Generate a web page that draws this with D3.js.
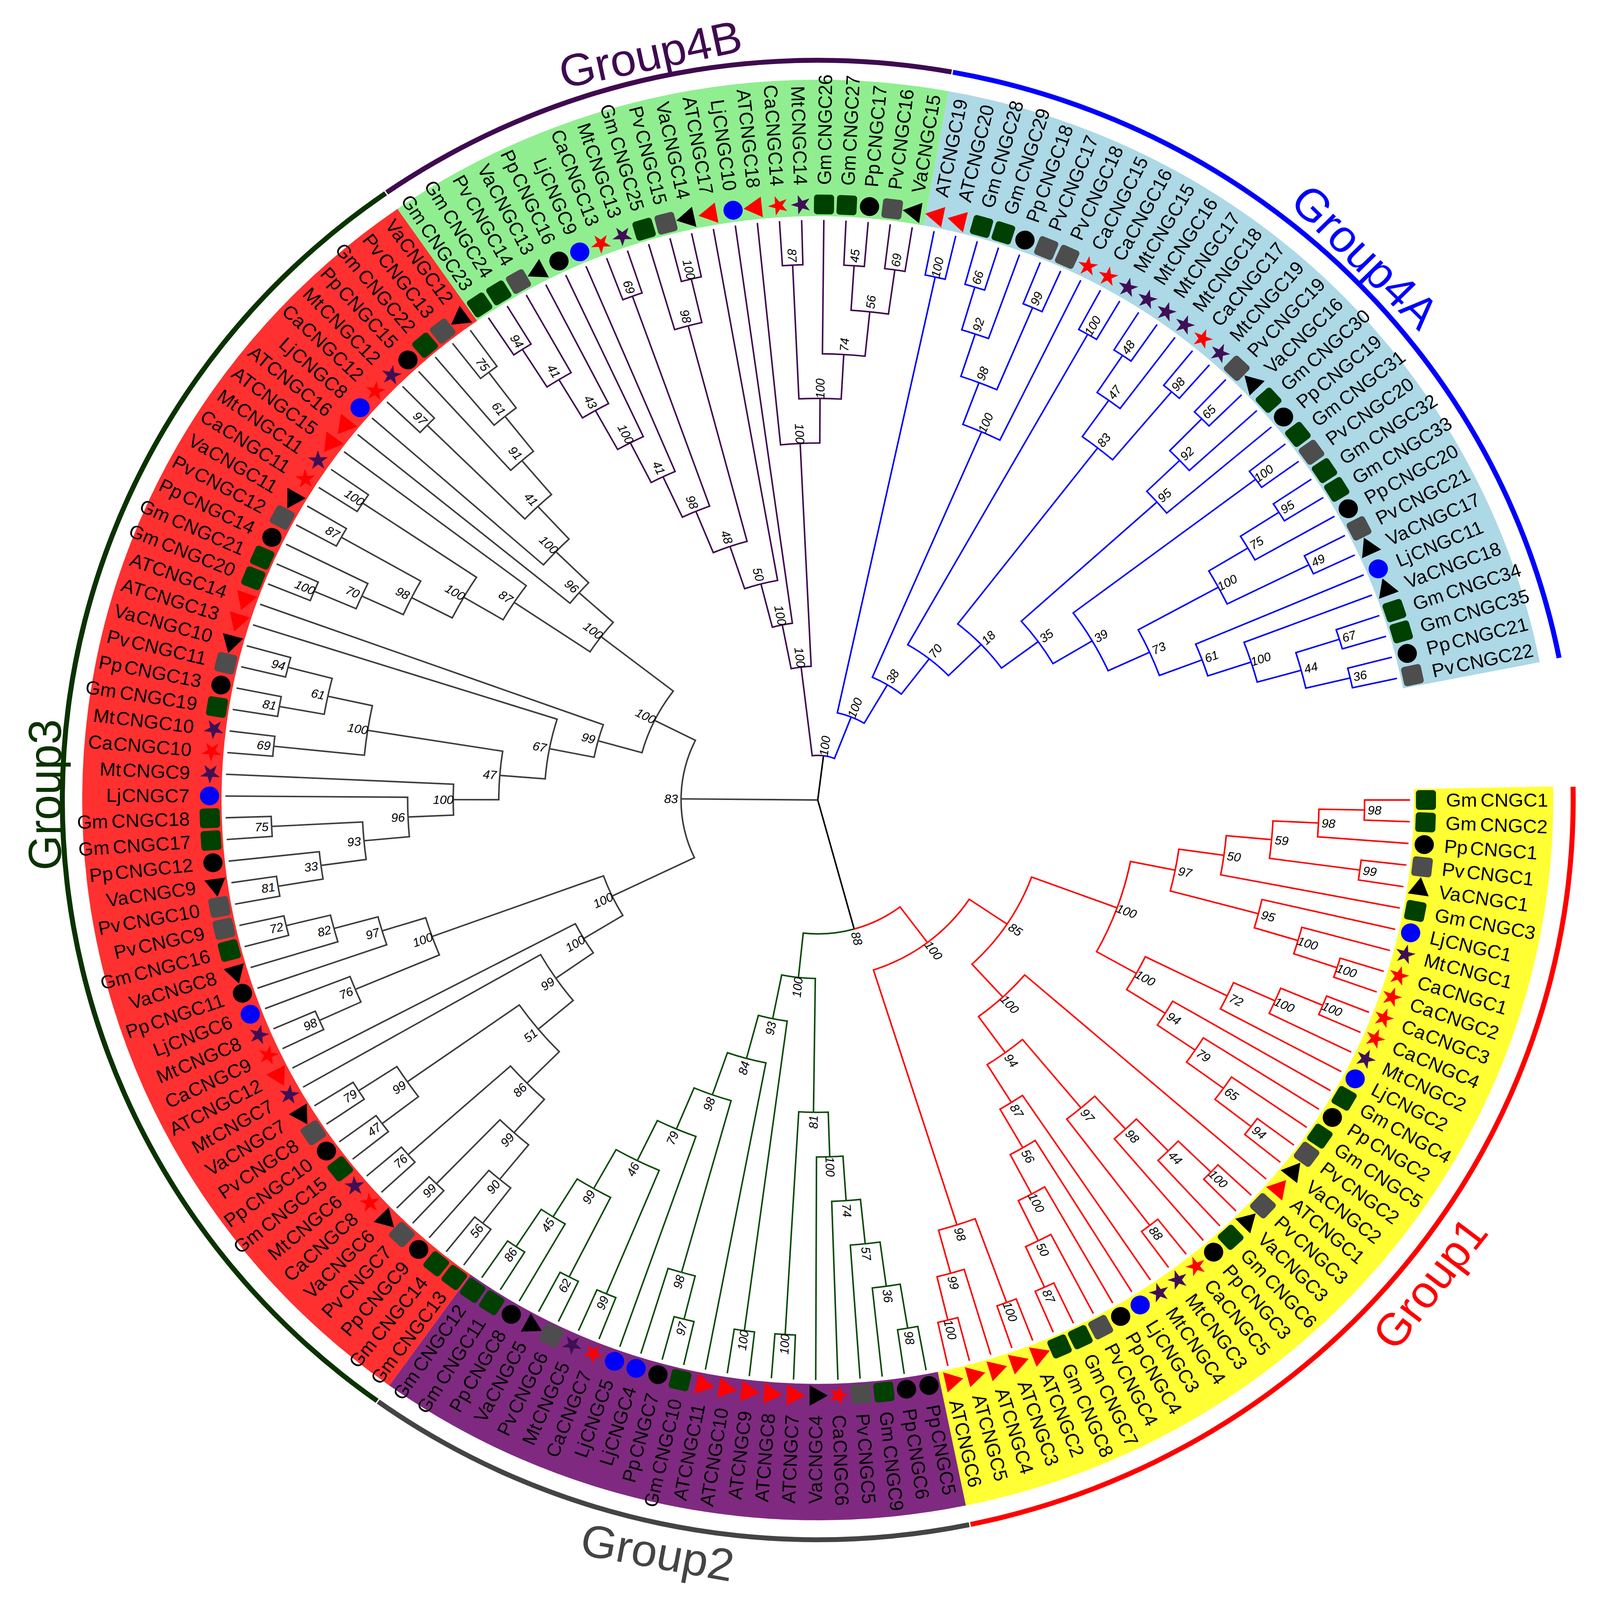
<!DOCTYPE html>
<html>
<head>
<meta charset="utf-8">
<script src="https://cdn.jsdelivr.net/npm/d3@7"></script>
<style>
  html, body { margin: 0; padding: 0; background: #fff; overflow: hidden; }
  svg { display: block; width: 100vw; height: 100vh; }
  text { font-family: "Liberation Sans", Arial, sans-serif; }
</style>
</head>
<body>
<svg id="chart" viewBox="0 0 4146 4234" preserveAspectRatio="none"></svg>
<script>
// Leaves per group, in clockwise order starting from the east
var group1Leaves = ["GmCNGC1","GmCNGC2","PpCNGC1","PvCNGC1","VaCNGC1","GmCNGC3","LjCNGC1","MtCNGC1","CaCNGC1","CaCNGC2","CaCNGC3","CaCNGC4","MtCNGC2","LjCNGC2","GmCNGC4","PpCNGC2","GmCNGC5","PvCNGC2","VaCNGC2","ATCNGC1","PvCNGC3","VaCNGC3","GmCNGC6","PpCNGC3","CaCNGC5","MtCNGC3","MtCNGC4","LjCNGC3","PpCNGC4","PvCNGC4","GmCNGC7","GmCNGC8","ATCNGC2","ATCNGC3","ATCNGC4","ATCNGC5","ATCNGC6"];
var group2Leaves = ["PpCNGC5","PpCNGC6","GmCNGC9","PvCNGC5","CaCNGC6","VaCNGC4","ATCNGC7","ATCNGC8","ATCNGC9","ATCNGC10","ATCNGC11","GmCNGC10","PpCNGC7","LjCNGC4","LjCNGC5","CaCNGC7","MtCNGC5","PvCNGC6","VaCNGC5","PpCNGC8","GmCNGC11","GmCNGC12"];
var group3Leaves = ["GmCNGC13","GmCNGC14","PpCNGC9","PvCNGC7","VaCNGC6","CaCNGC8","MtCNGC6","GmCNGC15","PpCNGC10","PvCNGC8","VaCNGC7","MtCNGC7","ATCNGC12","CaCNGC9","MtCNGC8","LjCNGC6","PpCNGC11","VaCNGC8","GmCNGC16","PvCNGC9","PvCNGC10","VaCNGC9","PpCNGC12","GmCNGC17","GmCNGC18","LjCNGC7","MtCNGC9","CaCNGC10","MtCNGC10","GmCNGC19","PpCNGC13","PvCNGC11","VaCNGC10","ATCNGC13","ATCNGC14","GmCNGC20","GmCNGC21","PpCNGC14","PvCNGC12","VaCNGC11","CaCNGC11","MtCNGC11","ATCNGC15","ATCNGC16","LjCNGC8","CaCNGC12","MtCNGC12","PpCNGC15","GmCNGC22","PvCNGC13","VaCNGC12"];
var group4BLeaves = ["GmCNGC23","GmCNGC24","PvCNGC14","VaCNGC13","PpCNGC16","LjCNGC9","CaCNGC13","MtCNGC13","GmCNGC25","PvCNGC15","VaCNGC14","ATCNGC17","LjCNGC10","ATCNGC18","CaCNGC14","MtCNGC14","GmCNGC26","GmCNGC27","PpCNGC17","PvCNGC16","VaCNGC15"];
var group4ALeaves = ["ATCNGC19","ATCNGC20","GmCNGC28","GmCNGC29","PpCNGC18","PvCNGC17","PvCNGC18","CaCNGC15","CaCNGC16","MtCNGC15","MtCNGC16","MtCNGC17","MtCNGC18","CaCNGC17","MtCNGC19","PvCNGC19","VaCNGC16","GmCNGC30","PpCNGC19","GmCNGC31","PvCNGC20","GmCNGC32","GmCNGC33","PpCNGC20","PvCNGC21","VaCNGC17","LjCNGC11","VaCNGC18","GmCNGC34","GmCNGC35","PpCNGC21","PvCNGC22"];

// Tree topology with bootstrap values (newick style), one string per group
var group1Tree = "((((((((GmCNGC1,GmCNGC2)98,PpCNGC1)98,(PvCNGC1,VaCNGC1)99)59,GmCNGC3)50,(LjCNGC1,(MtCNGC1,(CaCNGC1,CaCNGC2)100)100)95)97,((((CaCNGC3,CaCNGC4)100,MtCNGC2)100,LjCNGC2)72,(GmCNGC4,(PpCNGC2,(GmCNGC5,(PvCNGC2,VaCNGC2)94)65)79)94)100)100,(ATCNGC1,(((((PvCNGC3,VaCNGC3)100,GmCNGC6)44,PpCNGC3)98,(CaCNGC5,MtCNGC3)88)97,(MtCNGC4,(LjCNGC3,(PpCNGC4,(PvCNGC4,(GmCNGC7,GmCNGC8)87)50)100)56)87)94)100)85,((ATCNGC2,ATCNGC3)100,(ATCNGC4,(ATCNGC5,ATCNGC6)100)99)98)100";
var group2Tree = "(((((((PpCNGC5,PpCNGC6)98,GmCNGC9)36,PvCNGC5)57,CaCNGC6)74,VaCNGC4)100,(ATCNGC7,ATCNGC8)100)81,((ATCNGC9,ATCNGC10)100,(ATCNGC11,(((GmCNGC10,PpCNGC7)97,LjCNGC4)98,(LjCNGC5,((CaCNGC7,MtCNGC5)99,((PvCNGC6,VaCNGC5)62,(PpCNGC8,(GmCNGC11,GmCNGC12)86)45)99)46)79)98)84)93)100";
var group3Tree = "(((((((((GmCNGC13,GmCNGC14)56,PpCNGC9)90,(PvCNGC7,VaCNGC6)99)99,(CaCNGC8,MtCNGC6)76)86,((GmCNGC15,PpCNGC10)47,(PvCNGC8,VaCNGC7)79)99)51,MtCNGC7)99,ATCNGC12)100,(((CaCNGC9,MtCNGC8)98,LjCNGC6)76,(PpCNGC11,(VaCNGC8,(PvCNGC9,GmCNGC16)72)82)97)100)100,(((((((((PvCNGC10,VaCNGC9)81,PpCNGC12)33,(GmCNGC17,GmCNGC18)75)93,LjCNGC7)96,MtCNGC9)100,((CaCNGC10,MtCNGC10)69,((GmCNGC19,PpCNGC13)81,(PvCNGC11,VaCNGC10)94)61)100)47,ATCNGC13)67,ATCNGC14)99,((((((GmCNGC20,GmCNGC21)100,PpCNGC14)70,(PvCNGC12,VaCNGC11)87)98,(CaCNGC11,MtCNGC11)100)100,ATCNGC15)87,(ATCNGC16,(LjCNGC8,((CaCNGC12,MtCNGC12)97,(PpCNGC15,(GmCNGC22,(PvCNGC13,VaCNGC12)75)61)91)41)100)96)100)100)83";
var group4BTree = "((((((((((GmCNGC23,GmCNGC24)94,PvCNGC14)41,VaCNGC13)43,PpCNGC16)100,LjCNGC9)41,(CaCNGC13,MtCNGC13)69)98,(GmCNGC25,(PvCNGC15,VaCNGC14)100)98)48,ATCNGC17)50,LjCNGC10)100,(ATCNGC18,((CaCNGC14,MtCNGC14)87,(GmCNGC26,((GmCNGC27,PpCNGC17)45,(PvCNGC16,VaCNGC15)69)56)74)100)100)100";
var group4ATree = "((ATCNGC19,ATCNGC20)100,(((((GmCNGC28,GmCNGC29)66,PpCNGC18)92,(PvCNGC17,PvCNGC18)99)98,CaCNGC15)100,((CaCNGC16,MtCNGC15)100,((((MtCNGC16,MtCNGC17)48,MtCNGC18)47,(CaCNGC17,MtCNGC19)98)83,((((PvCNGC19,VaCNGC16)65,GmCNGC30)92,PpCNGC19)95,((GmCNGC31,PvCNGC20)100,((((GmCNGC32,GmCNGC33)95,PpCNGC20)75,(PvCNGC21,VaCNGC17)49)100,(LjCNGC11,(VaCNGC18,((GmCNGC34,GmCNGC35)67,(PpCNGC21,PvCNGC22)36)44)100)61)73)39)35)18)70)38)100";
var group12Support = "88";
var group4Support = "100";

var groupNames = ["Group1", "Group2", "Group3", "Group4B", "Group4A"];

// Colours
var bandColors = ["#ffff33", "#7f2a80", "#ff3030", "#90ee90", "#add8e6"];
var branchColors = ["#ff0000", "#0a4a0a", "#3c3c3c", "#3f0a50", "#0000ff"];
var ringColors = ["#ff0000", "#444444", "#0a3300", "#3f0a50", "#0000ff"];

var cx = 2119, cy = 2117;
var svg = d3.select("#chart");
var root = svg.append("g").attr("transform", "translate(" + cx + "," + cy + ")");

var groups = [group1Leaves, group2Leaves, group3Leaves, group4BLeaves, group4ALeaves];
var allLeaves = d3.merge(groups);

// Leaf position -> clockwise degrees from east
var angle = d3.scaleLinear().domain([0, allLeaves.length - 1]).range([0, 347.9]);
// Node height above the leaves -> radius
var radius = d3.scaleLinear().domain([0, 13]).range([1535, 0]);

var leafGroup = {};
groups.forEach(function(g, i) { g.forEach(function(n) { leafGroup[n] = i; }); });

// Small newick reader
function parseNewick(s) {
  var pos = 0;
  function node() {
    if (s[pos] === "(") {
      pos++;
      var kids = [node()];
      while (s[pos] === ",") { pos++; kids.push(node()); }
      pos++; // closing bracket
      var start = pos;
      while (pos < s.length && /[0-9]/.test(s[pos])) pos++;
      return { support: s.slice(start, pos), children: kids };
    }
    var st = pos;
    while (pos < s.length && /[A-Za-z0-9]/.test(s[pos])) pos++;
    return { name: s.slice(st, pos) };
  }
  return node();
}

var treeData = {
  support: "",
  children: [
    { support: group12Support, children: [parseNewick(group1Tree), parseNewick(group2Tree)] },
    parseNewick(group3Tree),
    { support: group4Support, children: [parseNewick(group4BTree), parseNewick(group4ATree)] }
  ]
};

var tree = d3.hierarchy(treeData);

// Angle of a node is the middle of its children, radius comes from its height
tree.eachAfter(function(d) {
  if (d.children) {
    d.a = (d.children[0].a + d.children[d.children.length - 1].a) / 2;
    d.g = d.children.every(function(c) { return c.g === d.children[0].g; }) ? d.children[0].g : -1;
  } else {
    d.a = angle(allLeaves.indexOf(d.data.name));
    d.g = leafGroup[d.data.name];
  }
  d.r = radius(d.height);
});

function rad(deg) { return deg * Math.PI / 180; }
function px(r, a) { return r * Math.cos(rad(a)); }
function py(r, a) { return r * Math.sin(rad(a)); }

var halfStep = (angle(1) - angle(0)) / 2;
var d3Arc = d3.arc();
var firstIndex = 0;

// Coloured bands and outer ring for each group
groups.forEach(function(g, i) {
  var a0 = angle(firstIndex) - halfStep;
  var a1 = angle(firstIndex + g.length - 1) + halfStep;
  root.append("path")
    .attr("d", d3Arc({ innerRadius: 1545, outerRadius: 1906, startAngle: rad(a0 + 90), endAngle: rad(a1 + 90) }))
    .attr("fill", bandColors[i]);
  root.append("path")
    .attr("d", d3Arc({ innerRadius: 1951, outerRadius: 1964, startAngle: rad(a0 + 90 + 0.05), endAngle: rad(a1 + 90 - 0.05) }))
    .attr("fill", ringColors[i]);
  firstIndex += g.length;
});

// Branches: radial stem plus the part of the parent's arc
var branches = root.append("g").attr("fill", "none").attr("stroke-width", 4);
tree.descendants().forEach(function(d) {
  if (!d.parent) return;
  var p = d3.path();
  p.moveTo(px(d.r, d.a), py(d.r, d.a));
  p.lineTo(px(d.parent.r, d.a), py(d.parent.r, d.a));
  if (d.parent.r > 0) p.arc(0, 0, d.parent.r, rad(d.a), rad(d.parent.a), d.parent.a < d.a);
  branches.append("path")
    .attr("d", p.toString())
    .attr("stroke", d.g >= 0 ? branchColors[d.g] : "#000");
});

// Bootstrap labels
var supports = root.append("g");
tree.descendants().forEach(function(d) {
  if (!d.children || !d.data.support) return;
  var flip = d.a > 90 && d.a < 270;
  var lr = d.r + 26;
  supports.append("text")
    .attr("transform", "translate(" + px(lr, d.a) + "," + py(lr, d.a) + ") rotate(" + (flip ? d.a + 180 : d.a) + ")")
    .attr("text-anchor", "middle")
    .attr("dy", "0.35em")
    .attr("font-size", 32)
    .attr("font-style", "italic")
    .text(d.data.support);
});

// Marker per species prefix
var starPath = d3.symbol().type(d3.symbolStar).size(830)();
var triPath = d3.symbol().type(d3.symbolTriangle).size(1300)();
var circlePath = d3.symbol().type(d3.symbolCircle).size(1960)();

function drawMarker(sel, prefix) {
  if (prefix === "Gm" || prefix === "Pv") {
    sel.append("rect")
      .attr("x", -26).attr("y", -26).attr("width", 52).attr("height", 52).attr("rx", 8)
      .attr("fill", prefix === "Gm" ? "#004000" : "#4d4d4d");
  } else if (prefix === "Pp" || prefix === "Lj") {
    sel.append("path").attr("d", circlePath).attr("fill", prefix === "Pp" ? "#000" : "#0000ff");
  } else if (prefix === "Va" || prefix === "AT") {
    sel.append("path").attr("d", triPath).attr("fill", prefix === "Va" ? "#000" : "#ff0000");
  } else {
    sel.append("path").attr("d", starPath).attr("fill", prefix === "Mt" ? "#3f0f55" : "#ff0000");
  }
}

var prefixGap = { Gm: 9, Pp: 6, Pv: 6, Mt: 4, Va: 2, Lj: 2, Ca: 2, AT: 0 };

var leaves = root.append("g");
allLeaves.forEach(function(name, i) {
  var a = angle(i);
  var prefix = name.slice(0, 2);
  var m = leaves.append("g")
    .attr("transform", "translate(" + px(1576, a) + "," + py(1576, a) + ") rotate(" + a + ")");
  drawMarker(m, prefix);

  var flip = a > 90 && a < 270;
  var t = leaves.append("text")
    .attr("transform", "translate(" + px(1628, a) + "," + py(1628, a) + ") rotate(" + (flip ? a + 180 : a) + ")")
    .attr("text-anchor", flip ? "end" : "start")
    .attr("dy", "0.35em")
    .attr("font-size", 50)
    .attr("fill", "#000");
  t.append("tspan").text(prefix);
  t.append("tspan").attr("dx", prefixGap[prefix]).text(name.slice(2));
});

// Group titles: polar position of the baseline middle and text rotation
var titleAngles = [38.85, 101.75, 180.4, 257.6, 314.6];
var titleRadii = [2079, 2076, 1961, 1979, 1978];
var titleRotation = [-52.4, 10.4, -90, -12, 45];
groupNames.forEach(function(n, i) {
  var a = titleAngles[i], r = titleRadii[i];
  root.append("text")
    .attr("transform", "translate(" + px(r, a) + "," + py(r, a) + ") rotate(" + titleRotation[i] + ")")
    .attr("text-anchor", "middle")
    .attr("font-size", 120)
    .attr("fill", ringColors[i])
    .text(n);
});
</script>
</body>
</html>
